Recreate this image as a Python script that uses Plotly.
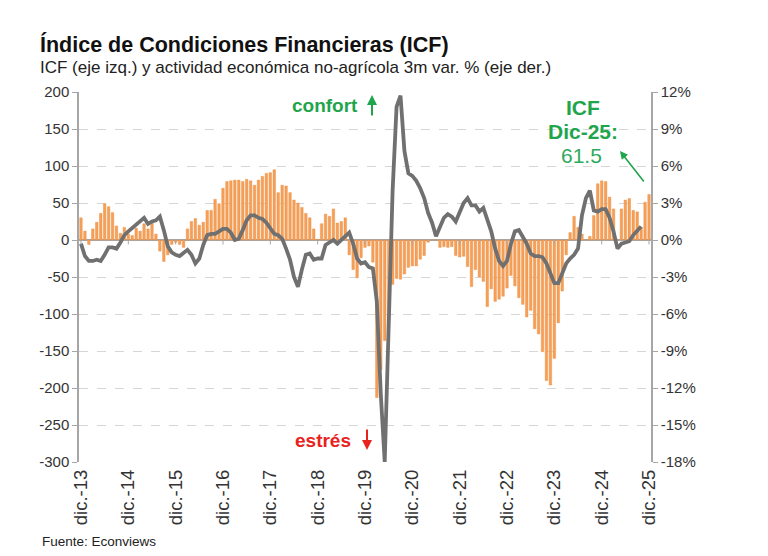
import plotly.graph_objects as go

# monthly categories dic-13 .. dic-25
mes = ['ene.', 'feb.', 'mar.', 'abr.', 'may.', 'jun.', 'jul.', 'ago.', 'sep.', 'oct.', 'nov.', 'dic.']
meses = ['dic.-13'] + [f'{m}-{a}' for a in range(14, 26) for m in mes]

# ICF (left axis)
icf = [30, 12, -6, 15, 24, 36, 49, 45, 37, 19, 9, 17,
       8, 6, 16, 12, 22, 15, 25, 8, -15, -29, -20, -6,
       -3, -6, -10, 15, 25, 29, 20, 24, 40, 40, 55, 49,
       70, 79, 80, 81, 81, 79, 82, 80, 74, 81, 86, 90,
       91, 95, 64, 74, 73, 64, 54, 50, 44, 36, 30, 15,
       1, 22, 35, 32, 42, 23, 25, 30, -20, -40, -51, -24,
       -10, -8, -30, -213, -175, -136, -104, -60, -52, -53, -46, -37,
       -35, -35, -26, -21, -3, 0, 0, -10, -9, -10, -9, -21,
       -23, -22, -36, -63, -40, -50, -56, -90, -66, -83, -80, -76,
       -65, -48, -62, -78, -87, -104, -95, -120, -127, -151, -190, -196,
       -160, -112, -69, -20, 10, 32, 17, 8, 0, 5, 33, 76,
       80, 79, 58, 42, 0, 42, 54, 56, 40, 38, 17, 51,
       61.5]

# actividad economica no-agricola, 3m var % (right axis)
actividad = [-0.3, -1.3, -1.7, -1.7, -1.6, -1.7, -1.2, -0.6, -0.6, -0.7, -0.2, 0.4,
             0.7, 1.0, 1.3, 1.6, 1.8, 1.3, 1.5, 1.6, 1.9, 0.8, -0.5, -1.0,
             -1.2, -1.3, -1.0, -0.8, -1.2, -1.9, -1.5, -0.4, 0.4, 0.5, 0.5, 0.7,
             0.9, 0.9, 0.6, 0.0, 0.1, 0.8, 1.6, 2.0, 2.0, 1.8, 1.7, 1.4,
             1.0, 0.5, 0.4, 0.1, -0.7, -1.6, -3.0, -3.8, -2.4, -1.2, -1.1, -1.6,
             -1.5, -1.5, -0.4, -0.2, 0.0, -0.3, 0.0, 0.4, 0.6, -0.3, -1.5, -1.9,
             -1.8, -2.2, -2.3, -5.0, -12.5, -18.0, -6.0, 4.0, 10.8, 11.7, 7.2, 5.4,
             5.2, 4.8, 4.2, 3.4, 2.2, 1.4, 0.3, 1.0, 1.8, 2.1, 1.9, 1.5,
             2.2, 3.0, 3.4, 2.8, 2.8, 2.3, 2.6, 1.7, 0.7, -0.7, -1.7, -2.1,
             -1.7, -0.3, 0.7, 0.8, 0.3, -0.3, -1.1, -1.3, -1.3, -1.4, -1.9, -2.8,
             -3.5, -3.5, -2.6, -1.9, -1.5, -1.2, -0.7, 2.0, 3.4, 4.0, 2.4, 2.3,
             2.5, 2.5, 1.8, 0.7, -0.7, -0.3, -0.2, -0.1, 0.4, 0.8, 1.1, None,
             None]

x_ticks = ['dic.-13', 'dic.-14', 'dic.-15', 'dic.-16', 'dic.-17', 'dic.-18', 'dic.-19',
           'dic.-20', 'dic.-21', 'dic.-22', 'dic.-23', 'dic.-24', 'dic.-25']
left_ticks = [200, 150, 100, 50, 0, -50, -100, -150, -200, -250, -300]
right_ticks = [12, 9, 6, 3, 0, -3, -6, -9, -12, -15, -18]

# plot area in screen pixels (page body adds an 8px margin)
OFF = 8
W, H = 768 - OFF, 556 - OFF
L, R, T, B = 79, 651, 92, 462
def px(x):
    return (x - L) / (R - L)
def py(y):
    return (B - y) / (B - T)

axis_grey = '#A6A6A6'
txt = '#333333'
green = '#1FA54C'
red = '#E8231E'
font = 'Liberation Sans'

fig = go.Figure()
fig.add_trace(go.Bar(x=meses, y=icf, name='ICF',
                     marker=dict(color='#F5A058', line=dict(color='#EE8B3C', width=0.4))))
fig.add_trace(go.Scatter(x=meses, y=actividad, name='Actividad', yaxis='y2', mode='lines',
                         line=dict(color='#707070', width=3.8), connectgaps=False))

# small tick marks on the zero line
for t in x_ticks:
    fig.add_shape(type='line', xref='x', yref='y', x0=t, x1=t, y0=0, y1=-6,
                  line=dict(color=axis_grey, width=1))

fig.update_layout(
    width=W, height=H,
    margin=dict(l=L - OFF, r=768 - R, t=T - OFF, b=556 - B),
    paper_bgcolor='white', plot_bgcolor='white',
    showlegend=False, bargap=0.35,
    font=dict(family=font, size=15, color=txt),
    xaxis=dict(type='category', categoryorder='array', categoryarray=meses,
               tickvals=x_ticks, ticktext=x_ticks, tickangle=-90,
               showgrid=False, showline=False, ticks='', zeroline=False,
               ticklabelstandoff=3,
               tickfont=dict(size=18.5, color=txt)),
    yaxis=dict(range=[-300, 200], tickvals=left_ticks, ticktext=[str(v) for v in left_ticks],
               showgrid=True, gridcolor='#D6D6D6', griddash='dash', gridwidth=1,
               zeroline=True, zerolinecolor=axis_grey, zerolinewidth=1.5,
               showline=True, linecolor=axis_grey, linewidth=1.5,
               ticks='outside', ticklen=5, tickcolor=axis_grey,
               tickfont=dict(size=15, color=txt)),
    yaxis2=dict(range=[-18, 12], overlaying='y', side='right',
                tickvals=right_ticks, ticktext=[f'{v}%' for v in right_ticks],
                showgrid=False, zeroline=False,
                showline=True, linecolor=axis_grey, linewidth=1.5,
                ticks='outside', ticklen=5, tickcolor=axis_grey,
                tickfont=dict(size=15, color=txt)),
)

ann = [
    dict(text='<b>Índice de Condiciones Financieras (ICF)</b>', x=px(38), y=py(44),
         xanchor='left', yanchor='middle', font=dict(size=21.5, color='#111111')),
    dict(text='ICF (eje izq.) y actividad económica no-agrícola 3m var. % (eje der.)',
         x=px(38), y=py(67), xanchor='left', yanchor='middle', font=dict(size=17, color='#222222')),
    dict(text='<b>confort</b>', x=px(290), y=py(106), xanchor='left', yanchor='middle',
         font=dict(size=19, color=green)),
    dict(text='', x=px(372), y=py(95), showarrow=True, ax=0, ay=22,
         arrowhead=2, arrowsize=1, arrowwidth=2, arrowcolor=green),
    dict(text='<b>estrés</b>', x=px(293), y=py(440), xanchor='left', yanchor='middle',
         font=dict(size=19, color=red)),
    dict(text='', x=px(367), y=py(450), showarrow=True, ax=0, ay=-22,
         arrowhead=2, arrowsize=1, arrowwidth=2, arrowcolor=red),
    dict(text='<b>ICF</b>', x=px(583), y=py(107), xanchor='center', yanchor='middle',
         font=dict(size=21, color=green)),
    dict(text='<b>Dic-25:</b>', x=px(583), y=py(131), xanchor='center', yanchor='middle',
         font=dict(size=21, color=green)),
    dict(text='61.5', x=px(581), y=py(155), xanchor='center', yanchor='middle',
         font=dict(size=21, color='#2EAA5C')),
    dict(text='', x=px(620), y=py(151), showarrow=True, ax=25, ay=32,
         arrowhead=2, arrowsize=1, arrowwidth=1.6, arrowcolor=green),
    dict(text='Fuente: Econviews', x=px(40), y=py(541), xanchor='left', yanchor='middle',
         font=dict(size=13.5, color='#222222')),
]
for a in ann:
    a.setdefault('showarrow', False)
    a['xref'] = 'paper'
    a['yref'] = 'paper'
    fig.add_annotation(**a)

fig.write_html('out.html')
